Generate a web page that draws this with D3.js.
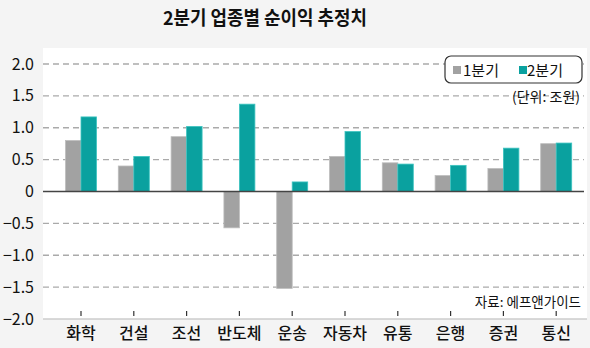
<!DOCTYPE html>
<html><head><meta charset="utf-8">
<script src="https://cdn.jsdelivr.net/npm/d3@7"></script>
<style>
body{margin:0;background:#f4f4f4;}
text{font-family:"Noto Sans CJK KR","Noto Sans",sans-serif;}
</style></head>
<body><svg id="c" width="590" height="348"></svg>
<script>
const categories = ["화학","건설","조선","반도체","운송","자동차","유통","은행","증권","통신"];
const q1 = [0.80,0.40,0.86,-0.57,-1.52,0.55,0.45,0.25,0.36,0.75];
const q2 = [1.17,0.55,1.02,1.37,0.15,0.94,0.43,0.41,0.68,0.76];
const seriesNames = ["1분기","2분기"];
const yTicks = [2.0,1.5,1.0,0.5,0,-0.5,-1.0,-1.5,-2.0];
const yTickLabels = ["2.0","1.5","1.0","0.5","0","\u22120.5","\u22121.0","\u22121.5","\u22122.0"];
const title = "2분기 업종별 순이익 추정치";
const unitNote = "(단위: 조원)";
const sourceNote = "자료: 에프앤가이드";

const colors = ["#a2a2a2","#0aa19f"];
const svg = d3.select("#c");
const L=43, R=587, T=48, B=319;
const y = d3.scaleLinear().domain([-2,2]).range([319,64]);
const x = d3.scaleBand().domain(categories).range([54.6,582.6]);
const cxOf = c => x(c)+x.bandwidth()/2;
// panel
svg.append("rect").attr("x",L).attr("y",T).attr("width",R-L).attr("height",B-T).attr("fill","#fff");
// title
svg.append("text").attr("x",265).attr("y",25).attr("text-anchor","middle")
  .attr("font-size",19).attr("font-weight","bold").attr("fill","#111")
  .attr("textLength",204).attr("lengthAdjust","spacingAndGlyphs").text(title);
// grid
yTicks.forEach(t=>{
  if(t===0||t===-2) return;
  svg.append("line").attr("x1",L).attr("x2",R-3).attr("y1",y(t)).attr("y2",y(t))
    .attr("stroke","#aaa").attr("stroke-width",1.3).attr("stroke-dasharray","6,4");
});
// y labels
yTicks.forEach((t,i)=>{
  svg.append("text").attr("x",34).attr("y",y(t)+5.5).attr("text-anchor","end")
    .attr("font-size",16).attr("fill","#111").attr("font-family","Liberation Sans Narrow, Arial Narrow, Liberation Sans, sans-serif")
    .text(yTickLabels[i]);
});
// bars
const sub = d3.scaleBand().domain([0,1]).range([-15.5,15.5]);
categories.forEach((c,i)=>{
  const cx = cxOf(c);
  [q1[i],q2[i]].forEach((v,j)=>{
    svg.append("rect").attr("x",cx+sub(j)).attr("width",sub.bandwidth())
      .attr("y",Math.min(y(v),y(0))).attr("height",Math.abs(y(v)-y(0)))
      .attr("fill",colors[j]).attr("stroke",j?"#3cc4c0":"#bdbdbd").attr("stroke-width",0.8);
  });
});
// zero line
svg.append("line").attr("x1",L).attr("x2",R-3).attr("y1",y(0)).attr("y2",y(0)).attr("stroke","#444").attr("stroke-width",1.5);
// bottom axis
svg.append("line").attr("x1",L).attr("x2",R).attr("y1",B).attr("y2",B).attr("stroke","#ccc").attr("stroke-width",1.5);
categories.forEach(c=>{
  const cx = cxOf(c);
  svg.append("line").attr("x1",cx).attr("x2",cx).attr("y1",311).attr("y2",316).attr("stroke","#333").attr("stroke-width",1.2);
  svg.append("text").attr("x",cx).attr("y",339).attr("text-anchor","middle").attr("font-size",16).attr("font-weight",500).attr("fill","#111").text(c);
});
// legend
svg.append("rect").attr("x",445).attr("y",56).attr("width",137).attr("height",27).attr("rx",6)
  .attr("fill","#fff").attr("stroke","#333").attr("stroke-width",1.2);
const leg=[[453,463],[519,527]];
seriesNames.forEach((s,j)=>{
  svg.append("rect").attr("x",leg[j][0]).attr("y",66).attr("width",8).attr("height",8).attr("fill",colors[j]);
  svg.append("text").attr("x",leg[j][1]).attr("y",76).attr("font-size",15).attr("fill","#111").text(s);
});
svg.append("text").attr("x",580).attr("y",102).attr("text-anchor","end").attr("font-size",14).attr("fill","#111").text(unitNote);
svg.append("text").attr("x",581).attr("y",307).attr("text-anchor","end").attr("font-size",13.5).attr("fill","#111").text(sourceNote);
</script></body></html>
